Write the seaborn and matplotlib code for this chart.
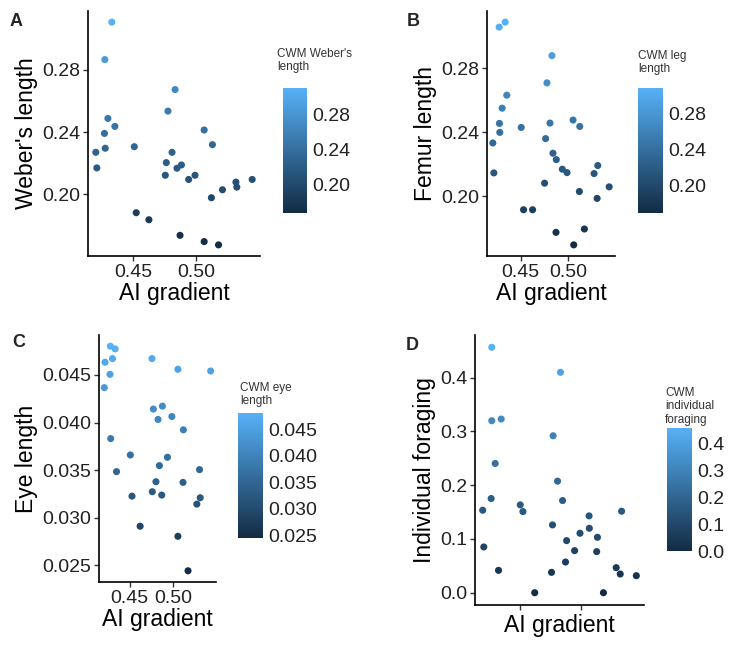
import numpy as np
import pandas as pd
import matplotlib
matplotlib.use("Agg")
import matplotlib.pyplot as plt
import seaborn as sns
from matplotlib.colors import Normalize
from matplotlib.cm import ScalarMappable

# Panel A - Weber's length
ai_a = [0.4334, 0.4279, 0.4832, 0.4776, 0.4303, 0.4358, 0.4276, 0.5061, 0.4511, 0.4282,
        0.5126, 0.4208, 0.4808, 0.4763, 0.4882, 0.4847, 0.4216, 0.4755, 0.4989, 0.4939,
        0.5439, 0.5311, 0.5318, 0.5205, 0.5118, 0.4526, 0.4626, 0.4871, 0.5061, 0.5174]
weber = [0.3104, 0.2864, 0.2672, 0.2534, 0.2487, 0.2436, 0.2391, 0.2413, 0.2306, 0.2296,
         0.2319, 0.2270, 0.2270, 0.2204, 0.2189, 0.2168, 0.2170, 0.2123, 0.2123, 0.2096,
         0.2096, 0.2079, 0.2047, 0.2030, 0.1979, 0.1883, 0.1838, 0.1738, 0.1698, 0.1677]

# Panel B - Femur length
ai_b = [0.4272, 0.4336, 0.4832, 0.4779, 0.4353, 0.4304, 0.4275, 0.4279, 0.4506, 0.5056,
        0.5127, 0.4811, 0.4205, 0.4765, 0.4843, 0.4878, 0.4942, 0.4992, 0.4216, 0.5279,
        0.5318, 0.4754, 0.5123, 0.5439, 0.5311, 0.4531, 0.4627, 0.4875, 0.5176, 0.5063]
femur = [0.3057, 0.3088, 0.2879, 0.2709, 0.2632, 0.2551, 0.2456, 0.2400, 0.2431, 0.2477,
         0.2437, 0.2458, 0.2334, 0.2361, 0.2270, 0.2230, 0.2170, 0.2149, 0.2147, 0.2143,
         0.2193, 0.2083, 0.2031, 0.2060, 0.1988, 0.1917, 0.1917, 0.1776, 0.1797, 0.1698]

# Panel C - Eye length
ai_c = [0.4278, 0.4333, 0.4216, 0.4302, 0.4274, 0.4208, 0.4759, 0.5059, 0.5438, 0.4775,
        0.4880, 0.4829, 0.4989, 0.5122, 0.4282, 0.4509, 0.4938, 0.4349, 0.4845, 0.5309,
        0.4805, 0.5118, 0.4763, 0.4872, 0.4528, 0.5317, 0.5278, 0.4622, 0.5059, 0.5176]
eye = [0.04802, 0.04774, 0.04634, 0.04672, 0.04507, 0.04367, 0.04672, 0.04560, 0.04542, 0.04142,
       0.04173, 0.04033, 0.04064, 0.03924, 0.03832, 0.03660, 0.03636, 0.03485, 0.03548, 0.03506,
       0.03379, 0.03372, 0.03274, 0.03239, 0.03228, 0.03211, 0.03144, 0.02912, 0.02806, 0.02444]

# Panel D - Individual foraging
ai_d = [0.4273, 0.4833, 0.4273, 0.4350, 0.4773, 0.4301, 0.4809, 0.4268, 0.4850, 0.4199,
        0.4505, 0.4527, 0.5331, 0.5066, 0.4768, 0.5068, 0.4992, 0.5134, 0.4883, 0.4948,
        0.5128, 0.4208, 0.4874, 0.4328, 0.4760, 0.5287, 0.5320, 0.5451, 0.4623, 0.5183]
foraging = [0.4565, 0.4099, 0.3199, 0.3230, 0.2919, 0.2404, 0.2075, 0.1752, 0.1714, 0.1534,
            0.1634, 0.1509, 0.1516, 0.1429, 0.1261, 0.1199, 0.1106, 0.1031, 0.0969, 0.0783,
            0.0764, 0.0851, 0.0571, 0.0416, 0.0379, 0.0466, 0.0348, 0.0317, 0.0, 0.0]

sns.set_theme(style="ticks")
plt.rcParams["font.family"] = ["Liberation Sans", "DejaVu Sans"]

W, H = 734, 646
fig = plt.figure(figsize=(W / 100, H / 100), dpi=100)
fig.patch.set_facecolor("white")

cmap = sns.blend_palette(["#132B43", "#56B1F7"], as_cmap=True)


def px_rect(left, top, right, bottom):
    return [left / W, 1 - bottom / H, (right - left) / W, (bottom - top) / H]


panels = [
    ("A", ai_a, weber, "Weber's length", "CWM Weber's\nlength",
     (88, 11, 260, 256), (283, 88, 307, 213), (277, 48), (10, 26),
     [0.20, 0.24, 0.28], "{:.2f}", True),
    ("B", ai_b, femur, "Femur length", "CWM leg\nlength",
     (487, 11, 615, 256), (638, 88, 663, 213), (638, 50), (407, 26),
     [0.20, 0.24, 0.28], "{:.2f}", True),
    ("C", ai_c, eye, "Eye length", "CWM eye\nlength",
     (99, 335, 216, 582), (238, 413, 263, 538), (240, 382), (12, 347),
     [0.025, 0.030, 0.035, 0.040, 0.045], "{:.3f}", True),
    ("D", ai_d, foraging, "Individual foraging", "CWM\nindividual\nforaging",
     (475, 335, 644, 605), (667, 428, 692, 551), (665, 387), (406, 350),
     [0.0, 0.1, 0.2, 0.3, 0.4], "{:.1f}", False),
]

for (tag, xs, ys, ylab, ctitle, arect, crect, tpos, lpos,
     ticks, fmt, show_xlab) in panels:
    df = pd.DataFrame({"ai": xs, "val": ys})
    vmin, vmax = min(ys), max(ys)
    ax = fig.add_axes(px_rect(*arect))
    sns.scatterplot(data=df, x="ai", y="val", hue="val", palette=cmap,
                    hue_norm=(vmin, vmax), s=26, linewidth=0, legend=False, ax=ax)
    ax.margins(0.05)
    ax.set_xticks([0.45, 0.50])
    if show_xlab:
        ax.set_xticklabels(["0.45", "0.50"])
    else:
        ax.set_xticklabels(["", ""])
    ax.set_yticks(ticks)
    ax.set_yticklabels([fmt.format(v) for v in ticks])
    ax.set_xlabel("AI gradient", fontsize=16.5, color="black", labelpad=1)
    ax.set_ylabel(ylab, fontsize=16.5, color="black", labelpad=3)
    ax.tick_params(labelsize=14, length=3.5, width=1, color="#333333",
                   labelcolor="#222222", pad=2)
    sns.despine(ax=ax)
    for sp in ("left", "bottom"):
        ax.spines[sp].set_linewidth(1.2)
        ax.spines[sp].set_color("black")

    fig.text(lpos[0] / W, 1 - lpos[1] / H, tag, fontsize=13, fontweight="bold",
             ha="left", va="baseline")

    cax = fig.add_axes(px_rect(*crect))
    sm = ScalarMappable(norm=Normalize(vmin, vmax), cmap=cmap)
    cb = fig.colorbar(sm, cax=cax)
    cb.outline.set_visible(False)
    cb.set_ticks(ticks)
    cb.set_ticklabels([fmt.format(v) for v in ticks])
    cax.tick_params(direction="in", length=5, width=0.8, color="white",
                    left=True, right=True, labelsize=14, labelcolor="#222222", pad=4)
    fig.text(tpos[0] / W, 1 - tpos[1] / H, ctitle, fontsize=8.5, color="#333333",
             ha="left", va="top", linespacing=1.15)

fig.savefig("out.png", dpi=100)
